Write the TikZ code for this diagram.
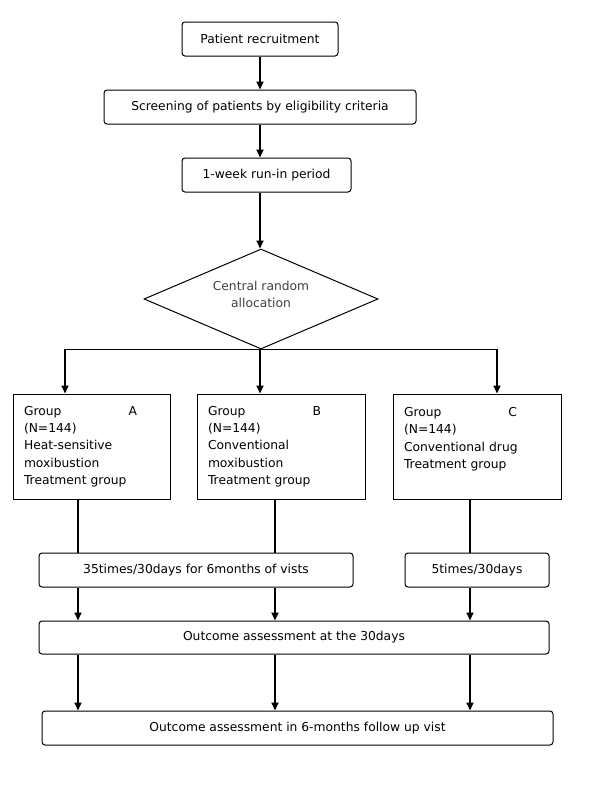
\documentclass[tikz,border=0pt]{standalone}
\usepackage{fontspec}
\setmainfont{DejaVu Sans}
\usetikzlibrary{shapes.geometric,arrows.meta}
\tikzset{
  rbox/.style={draw, rounded corners=3pt, line width=1pt, inner sep=0pt, align=center},
  gbox/.style={draw, line width=1pt, inner xsep=11pt, inner ysep=0pt, align=left, text width=#1, minimum height=105pt},
  arr/.style={line width=1.8pt, -{Triangle[length=8pt,width=7pt]}},
  ln/.style={line width=1.8pt},
}
\begin{document}
\begin{tikzpicture}[x=1pt,y=-1pt,font=\fontsize{12.3}{17.3}\selectfont]
\useasboundingbox (0,0) rectangle (600,803);
\node[rbox, minimum width=156pt, minimum height=34pt] (pr) at (260,39) {Patient recruitment};
\node[rbox, minimum width=312pt, minimum height=34pt] (scr) at (260,107) {Screening of patients by eligibility criteria};
\node[rbox, minimum width=169pt, minimum height=34pt] (run) at (266.5,175) {1-week run-in period};
\node[draw, diamond, line width=1pt, inner sep=0pt, aspect=2.34, minimum width=234pt, minimum height=100pt, align=center, text=black!75] (dia) at (261,299) {Central random\\allocation\\[-8pt]\mbox{}};
\node[gbox=135pt] (ga) at (91.5,446.5) {\makebox[113pt][l]{Group\hfill A}\\(N=144)\\Heat-sensitive\\moxibustion\\Treatment group};
\node[gbox=146pt] (gb) at (281,446.5) {\makebox[113pt][l]{Group\hfill B}\\(N=144)\\Conventional\\moxibustion\\Treatment group};
\node[gbox=146pt] (gc) at (477,446.5) {\makebox[113pt][l]{Group\hfill C}\\(N=144)\\Conventional drug\\Treatment group\\\mbox{}};
\node[rbox, minimum width=314pt, minimum height=34pt] (t35) at (196,570) {35times/30days for 6months of vists};
\node[rbox, minimum width=144pt, minimum height=34pt] (t5) at (477,570) {5times/30days};
\node[rbox, minimum width=510pt, minimum height=33pt] (o30) at (294,637.5) {Outcome assessment at the 30days};
\node[rbox, minimum width=511pt, minimum height=34pt] (o6) at (297.5,728) {Outcome assessment in 6-months follow up vist};
\coordinate (ja) at (65,350);
\coordinate (jc) at (497,350);
\coordinate (ca) at (78,0);
\coordinate (cb) at (275,0);
\coordinate (cc) at (470,0);
\draw[arr] (pr) -- (scr);
\draw[arr] (scr.south) -- (scr.south |- run.north);
\draw[arr] (scr.south |- run.south) -- (scr.south |- dia.north);
\draw[arr] (scr.south |- dia.south) -- (scr.south |- gb.north);
\draw[arr] (scr.south |- dia.south) -| (ja |- ga.north);
\draw[arr] (scr.south |- dia.south) -| (jc |- gc.north);
\draw[ln] (ca |- ga.south) -- (ca |- t35.north);
\draw[ln] (cb |- gb.south) -- (cb |- t35.north);
\draw[ln] (cc |- gc.south) -- (cc |- t5.north);
\draw[arr] (ca |- t35.south) -- (ca |- o30.north);
\draw[arr] (cb |- t35.south) -- (cb |- o30.north);
\draw[arr] (cc |- t5.south) -- (cc |- o30.north);
\draw[arr] (ca |- o30.south) -- (ca |- o6.north);
\draw[arr] (cb |- o30.south) -- (cb |- o6.north);
\draw[arr] (cc |- o30.south) -- (cc |- o6.north);
\end{tikzpicture}
\end{document}
